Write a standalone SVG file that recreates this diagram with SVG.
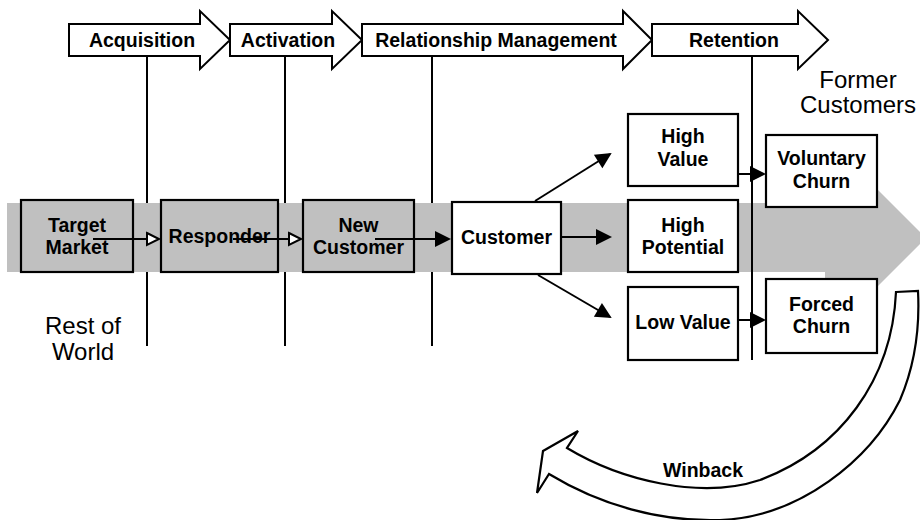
<svg xmlns="http://www.w3.org/2000/svg" width="920" height="520" viewBox="0 0 920 520">
<style>
.b{font-family:"Liberation Sans",Arial,Helvetica,sans-serif;font-weight:bold;font-size:19.5px;fill:#000;text-anchor:middle}
.r{font-family:"Liberation Sans",Arial,Helvetica,sans-serif;font-size:24px;fill:#000;text-anchor:middle}
.phase{fill:#fff;stroke:#000;stroke-width:2;stroke-linejoin:miter}
.box{stroke:#000;stroke-width:2.2}
.g{fill:#c0c0c0}
.w{fill:#fff}
.div{stroke:#000;stroke-width:2}
.c{stroke:#000;stroke-width:2;fill:none}
</style>
<defs>
<marker id="fa" markerUnits="userSpaceOnUse" markerWidth="18" markerHeight="18" refX="14" refY="8" orient="auto" overflow="visible">
<path d="M0,0 L16,8 L0,16 Z" fill="#000"/>
</marker>
<marker id="oa" markerUnits="userSpaceOnUse" markerWidth="16" markerHeight="14" refX="12" refY="6" orient="auto" overflow="visible">
<path d="M0,0 L12,6 L0,12 Z" fill="#fff" stroke="#000" stroke-width="2"/>
</marker>
</defs>

<!-- background gray flow arrow -->
<polygon class="g" points="7,203 825,203 825,137 926,238 825,339 825,272 7,272"/>
<!-- phase divider lines -->
<g id="dividers">
<line class="div" x1="147" y1="55" x2="147" y2="346"/>
<line class="div" x1="285" y1="55" x2="285" y2="346"/>
<line class="div" x1="432" y1="55" x2="432" y2="346"/>
</g>
<polygon class="g" points="7,203 825,203 825,272 7,272"/>
<line class="div" x1="752" y1="55" x2="752" y2="360"/>

<!-- phase arrows -->
<g id="phase-acquisition">
<polygon class="phase" points="69,24 200,24 200,11 230,40 200,69 200,56 69,56"/>
<text class="b" x="142" y="47">Acquisition</text>
</g>
<g id="phase-activation">
<polygon class="phase" points="230,24 332,24 332,11 362,40 332,69 332,56 230,56"/>
<text class="b" x="288" y="47">Activation</text>
</g>
<g id="phase-relationship">
<polygon class="phase" points="362,24 623,24 623,11 652,40 623,69 623,56 362,56"/>
<text class="b" x="496" y="47">Relationship Management</text>
</g>
<g id="phase-retention">
<polygon class="phase" points="652,24 798,24 798,11 828,40 798,69 798,56 652,56"/>
<text class="b" x="734" y="47">Retention</text>
</g>

<g id="former-customers">
<text class="r" x="858" y="88">Former</text>
<text class="r" x="858" y="113">Customers</text>
</g>
<g id="rest-of-world">
<text class="r" x="83" y="334">Rest of</text>
<text class="r" x="83" y="360">World</text>
</g>

<!-- nodes -->
<g id="target-market">
<rect class="box g" x="21" y="200" width="112" height="72"/>
<text class="b" x="77" y="232">Target</text>
<text class="b" x="77" y="254">Market</text>
</g>
<g id="responder">
<rect class="box g" x="161" y="200" width="117" height="72"/>
<text class="b" x="219.5" y="243">Responder</text>
</g>
<g id="new-customer">
<rect class="box g" x="303" y="200" width="111" height="72"/>
<text class="b" x="358.5" y="232">New</text>
<text class="b" x="358.5" y="254">Customer</text>
</g>
<g id="customer">
<rect class="box w" x="452" y="202" width="109" height="72"/>
<text class="b" x="506.5" y="244">Customer</text>
</g>
<g id="high-value">
<rect class="box w" x="628" y="114" width="110" height="72"/>
<text class="b" x="683" y="143">High</text>
<text class="b" x="683" y="166">Value</text>
</g>
<g id="high-potential">
<rect class="box w" x="628" y="200" width="110" height="72"/>
<text class="b" x="683" y="232">High</text>
<text class="b" x="683" y="254">Potential</text>
</g>
<g id="low-value">
<rect class="box w" x="628" y="287" width="110" height="73"/>
<text class="b" x="683" y="329">Low Value</text>
</g>
<g id="voluntary-churn">
<rect class="box w" x="766" y="135" width="111" height="72"/>
<text class="b" x="821.5" y="165">Voluntary</text>
<text class="b" x="821.5" y="188">Churn</text>
</g>
<g id="forced-churn">
<rect class="box w" x="766" y="279" width="111" height="74"/>
<text class="b" x="821.5" y="311">Forced</text>
<text class="b" x="821.5" y="333">Churn</text>
</g>

<!-- connectors -->
<g id="connectors">
<line class="c" x1="93" y1="239" x2="159" y2="239" marker-end="url(#oa)"/>
<line class="c" x1="233" y1="239" x2="301" y2="239" marker-end="url(#oa)"/>
<line class="c" x1="375" y1="239" x2="449" y2="239" marker-end="url(#fa)"/>
<line class="c" x1="562" y1="237" x2="610" y2="237" marker-end="url(#fa)"/>
<line class="c" x1="535" y1="201" x2="610" y2="154" marker-end="url(#fa)"/>
<line class="c" x1="538" y1="275" x2="610" y2="317" marker-end="url(#fa)"/>
<line class="c" x1="738" y1="174" x2="764" y2="174" marker-end="url(#fa)"/>
<line class="c" x1="738" y1="320" x2="764" y2="320" marker-end="url(#fa)"/>
</g>

<!-- winback -->
<g id="winback">
<path d="M896,292 L918,291 C920,330 915,365 900,400 C870,460 800,517 720,520 C660,522 600,505 549,474 L537,493 L543,451 L578,431 L567,448 C620,480 700,500 760,480 C840,450 892,380 896,292 Z" fill="#fff" stroke="#000" stroke-width="2.2" stroke-linejoin="miter"/>
<text class="b" x="703" y="477">Winback</text>
</g>
</svg>
